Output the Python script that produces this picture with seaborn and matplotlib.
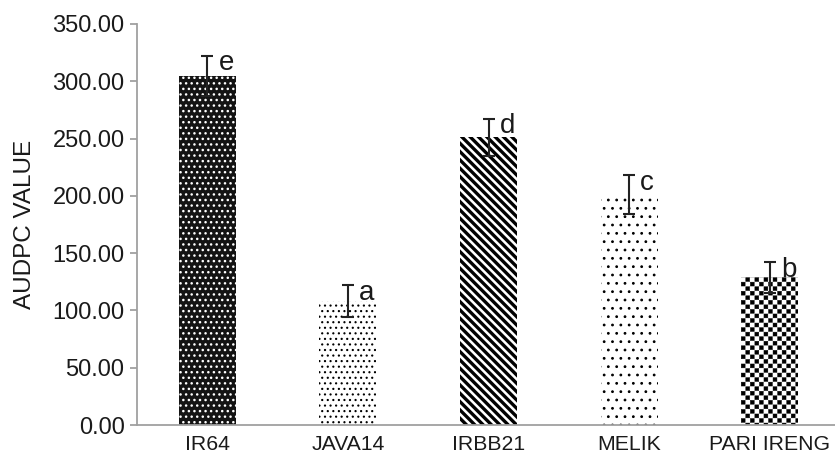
import numpy as np
import matplotlib
matplotlib.use("Agg")
import matplotlib.pyplot as plt
import matplotlib.hatch as mhatch
from matplotlib.path import Path
import seaborn as sns

# ---- data ----
categories = ["IR64", "JAVA14", "IRBB21", "MELIK", "PARI IRENG"]
values = [305.0, 108.0, 251.0, 201.0, 129.0]
errors = [17.5, 14.0, 16.5, 17.0, 13.5]
letters = ["e", "a", "d", "c", "b"]
y_ticks = [0, 50, 100, 150, 200, 250, 300, 350]

# ---- styles ----
face_colors = ["#141414", "white", "white", "white", "white"]
hatch_colors = ["white", "black", "black", "black", "black"]
hatches = ["...", "...", "\\" * 4, "..", "*"]
hatch_lws = [1.0, 0.8, 2.4, 0.8, 0.3]


# custom checkerboard hatch (replaces the '*' star hatch)
class Checker(mhatch.HatchPatternBase):
    def __init__(self, hatch, density):
        self.n = 22 if hatch.count("*") > 0 else 0
        self.cells = [(i, j) for i in range(self.n) for j in range(self.n)
                      if (i + j) % 2 == 0]
        self.num_vertices = len(self.cells) * 5

    def set_vertices_and_codes(self, vertices, codes):
        a = 1.0 / self.n
        s = a * 0.86
        d = (a - s) / 2
        k = 0
        for i, j in self.cells:
            x0, y0 = i * a + d, j * a + d
            vertices[k:k + 5] = [[x0, y0], [x0 + s, y0], [x0 + s, y0 + s],
                                 [x0, y0 + s], [x0, y0]]
            codes[k:k + 5] = [Path.MOVETO, Path.LINETO, Path.LINETO,
                              Path.LINETO, Path.CLOSEPOLY]
            k += 5


mhatch._hatch_types = [t for t in mhatch._hatch_types
                       if t is not mhatch.Stars] + [Checker]

sns.set_style("white")
plt.rcParams["font.family"] = ["Liberation Sans", "DejaVu Sans"]

fig = plt.figure(figsize=(8.35, 4.59), dpi=100)
ax = fig.add_axes([137 / 835, 34 / 459, 703 / 835, 401 / 459])

sns.barplot(x=categories, y=values, hue=categories, palette=face_colors,
            legend=False, width=0.405, errorbar=None, saturation=1,
            linewidth=0, ax=ax)

for p, hc, h, hlw in zip(ax.patches, hatch_colors, hatches, hatch_lws):
    p.set_edgecolor(hc)
    p.set_linewidth(0)
    p.set_hatch(h)
    if hasattr(p, "set_hatch_linewidth"):
        p.set_hatch_linewidth(hlw)

xpos = np.arange(len(categories))
ax.errorbar(xpos, values, yerr=errors, fmt="none", ecolor="#222222",
            elinewidth=1.5, capsize=4, capthick=1.5, zorder=5)

for x, v, e, t in zip(xpos, values, errors, letters):
    ax.text(x + 0.08, v + e - 13, t, ha="left", va="baseline",
            fontsize=20, color="#1a1a1a", zorder=6)

ax.set_xlim(-0.5, len(categories) - 0.5)
ax.set_ylim(0, 350)
ax.set_yticks(y_ticks)
ax.set_yticklabels([f"{t:.2f}" for t in y_ticks])
ax.set_xticks(xpos)
ax.set_xticklabels(categories)
ax.set_xticks(np.arange(len(categories) - 1) + 0.5, minor=True)
ax.tick_params(axis="x", which="major", length=0, pad=7,
               labelsize=15.3, labelcolor="#1a1a1a")
ax.tick_params(axis="x", which="minor", length=6, width=1.3,
               color="#a0a0a0", direction="out")
ax.tick_params(axis="y", which="major", length=5, width=1.3,
               color="#a0a0a0", direction="out", pad=4,
               labelsize=17, labelcolor="#1a1a1a", left=True)
ax.set_ylabel("AUDPC VALUE", fontsize=17.5, color="#1a1a1a", labelpad=12)
ax.set_xlabel("")

for side in ["top", "right"]:
    ax.spines[side].set_visible(False)
for side in ["left", "bottom"]:
    ax.spines[side].set_color("#a0a0a0")
    ax.spines[side].set_linewidth(1.3)

fig.savefig("out.png", dpi=100)
